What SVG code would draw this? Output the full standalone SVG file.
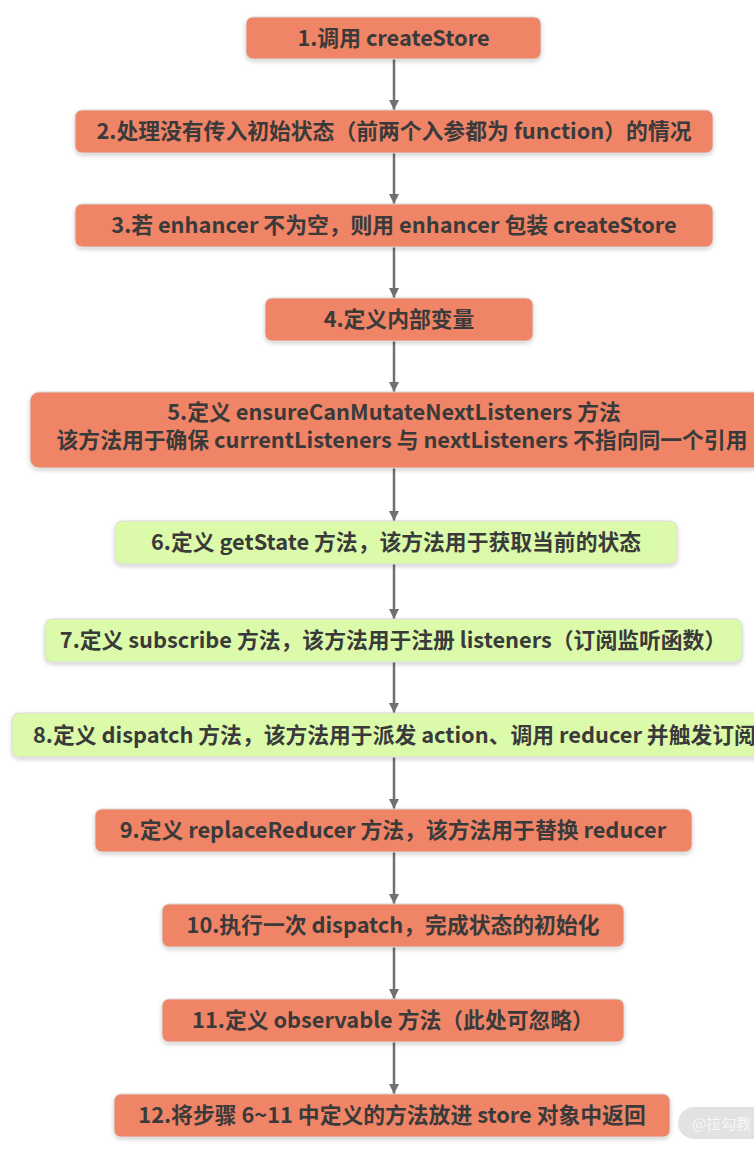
<svg xmlns="http://www.w3.org/2000/svg" width="754" height="1155" viewBox="0 0 754 1155">
<defs>
<style>
.n rect{stroke:#d9d9d9;stroke-width:1;}
.o rect{fill:#f08466;}
.g rect{fill:#dcfbaa;}
.n text{font-family:"Noto Sans CJK SC","Noto Sans",sans-serif;font-weight:bold;font-size:21.8px;fill:#3a3a3a;text-anchor:middle;}
.c line{stroke:#707070;stroke-width:2.5;}
</style>
<marker id="ah" viewBox="0 0 10 10" refX="10" refY="5" markerWidth="4" markerHeight="4" markerUnits="strokeWidth" orient="auto">
<path d="M0,0 L10,5 L0,10 z" fill="#707070"/>
</marker>
<filter id="sh" x="-5%" y="-20%" width="110%" height="150%">
<feDropShadow dx="0" dy="2" stdDeviation="2" flood-color="#000" flood-opacity="0.18"/>
</filter>
</defs>
<rect width="754" height="1155" fill="#ffffff"/>
<g class="c">
<line x1="394" y1="59" x2="394" y2="110" marker-end="url(#ah)"/>
<line x1="394" y1="153" x2="394" y2="204" marker-end="url(#ah)"/>
<line x1="394" y1="247" x2="394" y2="298" marker-end="url(#ah)"/>
<line x1="394" y1="341" x2="394" y2="392" marker-end="url(#ah)"/>
<line x1="394" y1="468" x2="394" y2="521" marker-end="url(#ah)"/>
<line x1="394" y1="564" x2="394" y2="619" marker-end="url(#ah)"/>
<line x1="394" y1="662" x2="394" y2="713" marker-end="url(#ah)"/>
<line x1="394" y1="757" x2="394" y2="809" marker-end="url(#ah)"/>
<line x1="394" y1="852" x2="394" y2="904" marker-end="url(#ah)"/>
<line x1="394" y1="947" x2="394" y2="999" marker-end="url(#ah)"/>
<line x1="394" y1="1042" x2="394" y2="1094" marker-end="url(#ah)"/>
</g>
<g id="n1" class="n o"><rect x="246" y="17" width="295" height="42" rx="7" filter="url(#sh)"/><text x="393.5" y="46">1.调用 createStore</text></g>
<g id="n2" class="n o"><rect x="75" y="110" width="638" height="43" rx="7" filter="url(#sh)"/><text x="394" y="139">2.处理没有传入初始状态（前两个入参都为 function）的情况</text></g>
<g id="n3" class="n o"><rect x="75" y="204" width="638" height="43" rx="7" filter="url(#sh)"/><text x="394" y="233">3.若 enhancer 不为空，则用 enhancer 包装 createStore</text></g>
<g id="n4" class="n o"><rect x="265" y="298" width="268" height="43" rx="7" filter="url(#sh)"/><text x="399" y="327">4.定义内部变量</text></g>
<g id="n5" class="n o"><rect x="30" y="392" width="732" height="76" rx="9" filter="url(#sh)"/><text x="394" y="420">5.定义 ensureCanMutateNextListeners 方法</text><text x="402" y="448">该方法用于确保 currentListeners 与 nextListeners 不指向同一个引用</text></g>
<g id="n6" class="n g"><rect x="115" y="521" width="562" height="43" rx="7" filter="url(#sh)"/><text x="396" y="550">6.定义 getState 方法，该方法用于获取当前的状态</text></g>
<g id="n7" class="n g"><rect x="45" y="619" width="697" height="43" rx="7" filter="url(#sh)"/><text x="393" y="648">7.定义 subscribe 方法，该方法用于注册 listeners（订阅监听函数）</text></g>
<g id="n8" class="n g"><rect x="12" y="713" width="760" height="44" rx="7" filter="url(#sh)"/><text x="33" y="743" style="text-anchor:start">8.定义 dispatch 方法，该方法用于派发 action、调用 reducer 并触发订阅</text></g>
<g id="n9" class="n o"><rect x="95" y="809" width="597" height="43" rx="7" filter="url(#sh)"/><text x="393" y="838">9.定义 replaceReducer 方法，该方法用于替换 reducer</text></g>
<g id="n10" class="n o"><rect x="162" y="904" width="462" height="43" rx="7" filter="url(#sh)"/><text x="393" y="933">10.执行一次 dispatch，完成状态的初始化</text></g>
<g id="n11" class="n o"><rect x="162" y="999" width="462" height="43" rx="7" filter="url(#sh)"/><text x="393" y="1028">11.定义 observable 方法（此处可忽略）</text></g>
<g id="n12" class="n o"><rect x="114" y="1094" width="556" height="43" rx="7" filter="url(#sh)"/><text x="392" y="1123">12.将步骤 6~11 中定义的方法放进 store 对象中返回</text></g>
<g id="wm"><rect x="678" y="1107" width="100" height="32" rx="16" fill="#e2e2e2"/><text x="692" y="1129" style="font-family:'Noto Sans CJK SC',sans-serif;font-size:15px;fill:#f7f7f7">@拉勾教</text></g>
</svg>
